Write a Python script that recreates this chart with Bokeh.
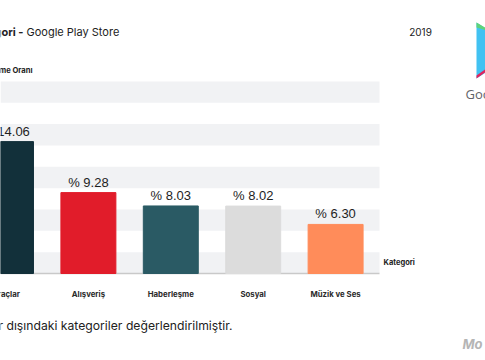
from bokeh.plotting import figure
from bokeh.models import Range1d, BoxAnnotation, Label, PolyAnnotation, ColumnDataSource
from bokeh.embed import file_html
from bokeh.resources import INLINE
from bokeh.core.properties import value

# ---- data ----
categories = ["Araçlar", "Alışveriş", "Haberleşme", "Sosyal", "Müzik ve Ses"]
shares = [14.06, 9.28, 8.03, 8.02, 6.30]
bar_colors = ["#12303a", "#e11c2a", "#2a5a64", "#dcdcdc", "#ff8c5a"]
title_bold = "Kategori -"
title_rest = "Google Play Store"
year_label = "2019"
y_title = "İndirilme Oranı"
x_title = "Kategori"
footnote = "Oyunlar dışındaki kategoriler değerlendirilmiştir."

# ---- layout (pixels of the 485x360 canvas) ----
W, H = 485, 360
PX_PER_CAT = 82.4       # horizontal scale
FIRST_CENTER = 5.5      # canvas x of first category centre
PX_PER_UNIT = 10.67     # vertical scale
BASE = 1.7              # value at the baseline
BASE_Y = 273            # canvas y of the baseline
AREA_RIGHT = 379        # right end of the banded area
BAND = 2.0

x0 = -FIRST_CENTER / PX_PER_CAT
x1 = x0 + W / PX_PER_CAT
yb = BASE - (H - BASE_Y) / PX_PER_UNIT
yt = BASE + BASE_Y / PX_PER_UNIT
band_top = BASE + (BASE_Y - 81) / PX_PER_UNIT

idx = list(range(len(categories)))
src = ColumnDataSource(dict(
    x=idx, top=shares, color=bar_colors,
    label=["% {:.2f}".format(v) for v in shares],
    cat=categories, base=[BASE] * len(idx),
))

p = figure(width=W, height=H, output_backend="svg", toolbar_location=None,
           x_range=Range1d(x0, x1), y_range=Range1d(yb, yt),
           x_axis_location=None, y_axis_location=None, min_border=0)
p.outline_line_color = None
p.xgrid.visible = False
p.ygrid.visible = False
p.background_fill_color = "white"
p.border_fill_color = "white"

# horizontal bands
b = BASE
k = 0
while b < band_top - 1e-6:
    if k % 2 == 0:
        p.add_layout(BoxAnnotation(bottom=b, top=min(b + BAND, band_top),
                                   right=AREA_RIGHT, right_units="screen",
                                   fill_color="#f1f2f4", fill_alpha=1,
                                   line_alpha=0, level="underlay"))
    b += BAND
    k += 1

# baseline (axis line)
p.segment(x0=[x0], x1=[x0 + AREA_RIGHT / PX_PER_CAT], y0=[BASE], y1=[BASE],
          line_color="#c9c9c9", line_width=1.5)

p.vbar(x="x", top="top", bottom=BASE, width=0.667, color="color", source=src)
p.text(x="x", y="top", text="label", source=src, text_align="center",
       text_baseline="bottom", y_offset=-3, text_font=value("Liberation Sans"),
       text_font_size="13px", text_color="#1e1e1e")
# category labels
p.text(x="x", y="base", text="cat", source=src, text_align="center",
       text_baseline="middle", y_offset=20, text_font=value("Inter"),
       text_font_size="7.8px", text_font_style="bold", text_color="#2a2a2a")


def lab(text, X, Y, size, align="left", style="normal", color="#222222", font="Inter"):
    return Label(x=X, y=H - Y, x_units="screen", y_units="screen", text=text,
                 text_align=align, text_baseline="middle", text_font=font,
                 text_font_size=size, text_font_style=style, text_color=color)


p.add_layout(lab(title_bold, 23, 31, "11px", align="right", style="bold"))
p.add_layout(lab(title_rest, 26, 31, "11px"))
p.add_layout(lab(year_label, 420, 31, "10px", align="center"))
p.add_layout(lab(y_title, 32, 70, "7.6px", align="right", style="bold"))
p.add_layout(lab(x_title, 383, 262, "7.5px", style="bold"))
p.add_layout(lab(footnote, 232, 325, "12.2px", align="right"))
p.add_layout(lab("Google Play", 465, 93, "13px", color="#5f6368", font="Open Sans"))
p.add_layout(lab("Mo", 462, 343, "13px", style="bold italic", color="#b5b5b5"))


# Google Play logo edge (decoration)
def poly(xs, ys, color):
    p.add_layout(PolyAnnotation(xs=xs, ys=[H - y for y in ys],
                                xs_units="screen", ys_units="screen",
                                fill_color=color, fill_alpha=1, line_alpha=0))


poly([476, 520, 476], [22, 50, 78], "#41c2f2")
poly([476, 486, 486, 476], [22, 28, 30, 27], "#5fd37a")
poly([476, 486, 486, 476], [78, 71, 68, 75], "#e0245e")

open("out.html", "w").write(file_html(p, INLINE))
